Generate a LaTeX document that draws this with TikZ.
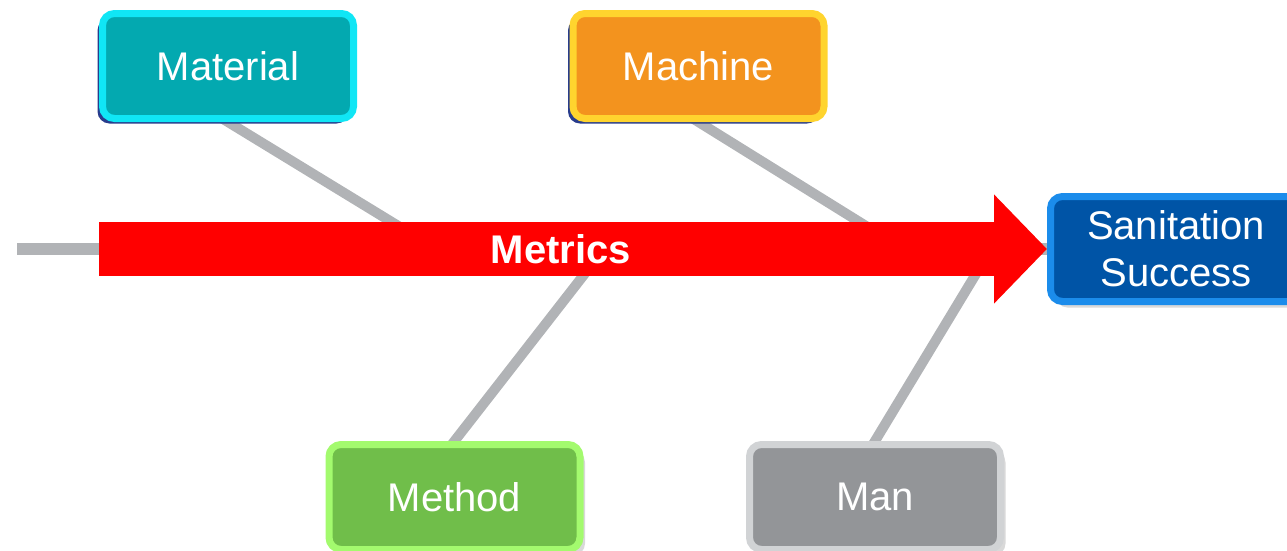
\documentclass[tikz,border=0pt]{standalone}
\usepackage{fontspec}
\setmainfont{Liberation Sans}
\usetikzlibrary{arrows.meta,shadows,backgrounds}
\definecolor{bone_gray}{RGB}{177,179,182}
\definecolor{metric_red}{RGB}{255,0,0}
\definecolor{box_navy}{RGB}{40,60,140}
\definecolor{mat_fill}{RGB}{3,169,176}
\definecolor{mat_edge}{RGB}{16,230,245}
\definecolor{mac_fill}{RGB}{243,147,30}
\definecolor{mac_edge}{RGB}{255,212,46}
\definecolor{suc_fill}{RGB}{0,84,166}
\definecolor{suc_edge}{RGB}{27,140,235}
\definecolor{mth_fill}{RGB}{112,190,74}
\definecolor{mth_edge}{RGB}{163,250,110}
\definecolor{man_fill}{RGB}{147,149,152}
\definecolor{man_edge}{RGB}{209,211,213}

\begin{document}
\begin{tikzpicture}[x=1pt,y=-1pt]
    \tikzstyle{box}=[rectangle, rounded corners=12pt, line width=7pt, minimum width=251pt, minimum height=105pt, inner sep=0pt, text=white, font=\fontsize{40}{47}\selectfont]
    \tikzstyle{mat}=[style=box, fill=mat_fill, draw=mat_edge, drop shadow={shadow xshift=-5pt, shadow yshift=-5pt, fill=box_navy, opacity=1}]
    \tikzstyle{mac}=[style=box, fill=mac_fill, draw=mac_edge, drop shadow={shadow xshift=-5pt, shadow yshift=-5pt, fill=box_navy, opacity=1}]
    \tikzstyle{suc}=[style=box, fill=suc_fill, draw=suc_edge, align=center, drop shadow={shadow xshift=5pt, shadow yshift=-6pt, fill=black, opacity=0.15}]
    \tikzstyle{mth}=[style=box, fill=mth_fill, draw=mth_edge, drop shadow={shadow xshift=5pt, shadow yshift=-6pt, fill=black, opacity=0.15}]
    \tikzstyle{mn}=[style=box, fill=man_fill, draw=man_edge, drop shadow={shadow xshift=5pt, shadow yshift=-6pt, fill=black, opacity=0.15}]
    \tikzstyle{bone}=[draw=bone_gray, line width=10pt, shorten <=-10pt]

    \useasboundingbox (0,0) rectangle (1287,550);

    \node[mat] (material) at (228,66)    {Material};
    \node[mac] (machine)  at (698.5,66)  {Machine};
    \node[suc] (success)  at (1176,249)  {Sanitation\\Success};
    \node[mth] (method)   at (454.5,497) {Method};
    \node[mn]  (man)      at (875,497)   {Man};

    \coordinate (tail)  at (17,249);
    \coordinate (start) at (99,249);
    \coordinate (j1) at (436,249);
    \coordinate (j2) at (903,249);
    \coordinate (j3) at (604,249);
    \coordinate (j4) at (991,249);

    \begin{scope}[on background layer]
      \draw[bone, line width=12pt, shorten <=0pt] (tail) -- (success.west);
      \draw[bone] (material.south) -- (j1);
      \draw[bone] (machine.south) -- (j2);
      \draw[bone] (method.north) -- (j3);
      \draw[bone] (man.north) -- (j4);
    \end{scope}

    \draw[metric_red, line width=54pt, -{Triangle[length=53pt,width=106pt]}] (start) -- (success.west);
    \node[text=white, font=\bfseries\fontsize{40}{47}\selectfont] (metrics) at (561,249) {Metrics};
\end{tikzpicture}
\end{document}
